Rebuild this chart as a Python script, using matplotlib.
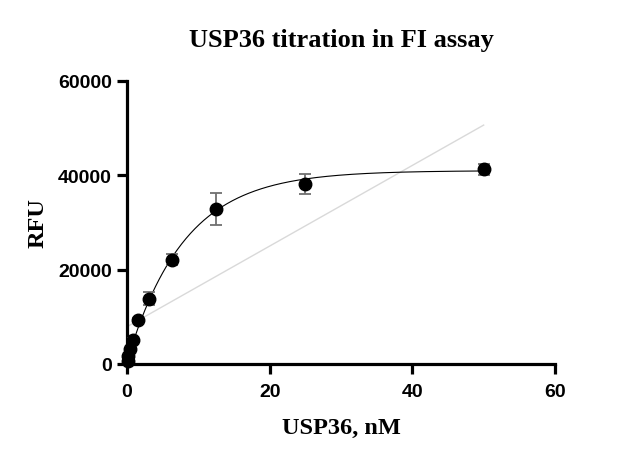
import numpy as np
import matplotlib
matplotlib.use("Agg")
import matplotlib.pyplot as plt

# USP36 concentration (nM), 2-fold dilution series
conc = [50, 25, 12.5, 6.25, 3.125, 1.5625, 0.78125, 0.390625, 0.1953, 0.0977]
rfu = [41300, 38200, 32900, 22100, 13800, 9390, 5150, 3180, 1760, 700]
rfu_err = [1200, 2100, 3400, 1200, 1400, 400, 300, 200, 150, 100]

# one-phase association fit
fit_y0 = 500
fit_plateau = 41000
fit_k = 0.125

# straight (linear) line shown in light grey
lin_intercept = 7900
lin_slope = 855
lin_range = [0, 50]

serif = ["Liberation Serif", "DejaVu Serif"]
sans = ["Liberation Sans", "DejaVu Sans"]

fig = plt.figure(figsize=(6.21, 4.64), dpi=100)
ax = fig.add_axes([0.2045, 0.2134, 0.6892, 0.6099])

lx = np.array(lin_range, dtype=float)
ax.plot(lx, lin_intercept + lin_slope * lx, color="#d9d9d9", lw=1.0, zorder=1)

fx = np.linspace(0, max(conc), 400)
fy = fit_y0 + (fit_plateau - fit_y0) * (1 - np.exp(-fit_k * fx))
ax.plot(fx, fy, color="black", lw=0.8, zorder=2)

ax.errorbar(conc, rfu, yerr=rfu_err, fmt="none", ecolor="#707070",
            elinewidth=1.3, capsize=4.3, capthick=1.3, zorder=3, clip_on=False)
ax.plot(conc, rfu, "o", color="black", ms=9, zorder=4, clip_on=False)

ax.set_xlim(0, 60)
ax.set_ylim(0, 60000)
ax.set_xticks([0, 20, 40, 60])
ax.set_yticks([0, 20000, 40000, 60000])

for side in ["top", "right"]:
    ax.spines[side].set_visible(False)
for side in ["left", "bottom"]:
    ax.spines[side].set_linewidth(2.3)
ax.tick_params(width=2.3, length=7.5, labelsize=14)
ax.tick_params(axis="x", pad=6.5)
ax.tick_params(axis="y", pad=3.5)
for lab in ax.get_xticklabels() + ax.get_yticklabels():
    lab.set_family(sans)
    lab.set_fontweight("bold")

ax.set_title("USP36 titration in FI assay", family=serif, fontweight="bold",
             fontsize=19, pad=25)
ax.set_xlabel("USP36, nM", family=serif, fontweight="bold", fontsize=17.5, labelpad=12)
ax.set_ylabel("RFU", family=serif, fontweight="bold", fontsize=17.5, labelpad=7)

fig.savefig("out.png", dpi=100)
